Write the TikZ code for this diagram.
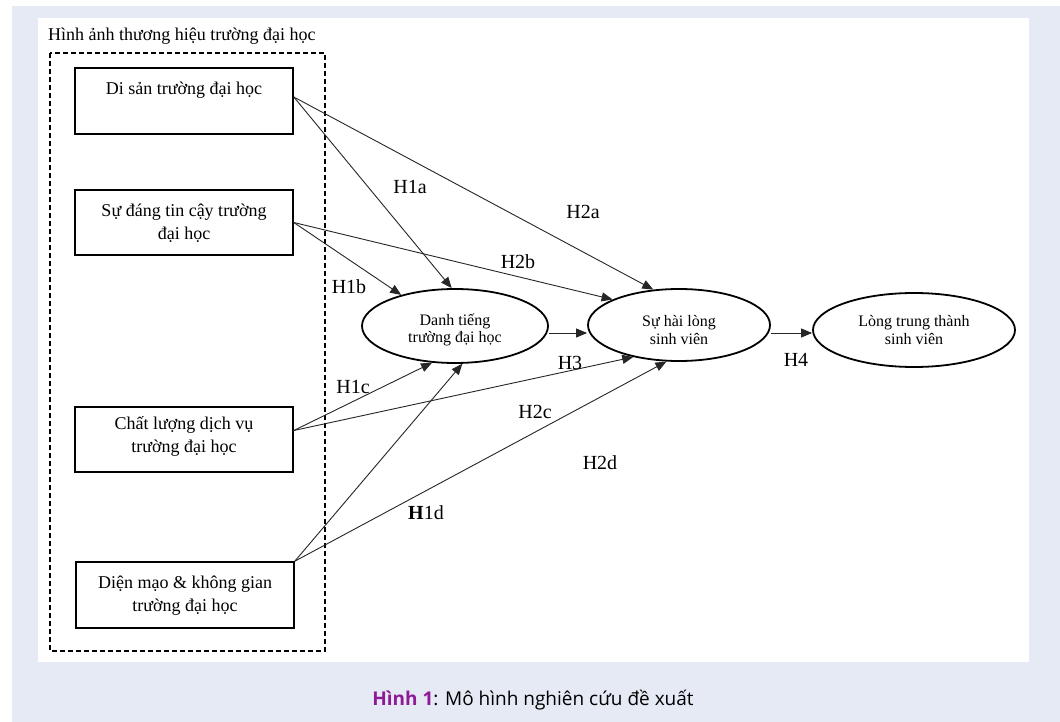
\documentclass[tikz,border=0pt]{standalone}
\usepackage{fontspec}
\setmainfont{Liberation Serif}
\newfontfamily\capfont{Open Sans}
\usetikzlibrary{arrows.meta,shapes.geometric}
\definecolor{bgblue}{RGB}{230,234,245}
\definecolor{capviolet}{RGB}{142,27,150}
\begin{document}
\begin{tikzpicture}[x=1bp,y=-1bp,
  boxstyle/.style={draw, line width=1.6bp, minimum width=218bp, minimum height=66bp, inner sep=0pt},
  btext/.style={font=\fontsize{18bp}{23bp}\selectfont, align=center, inner sep=0pt},
  ell/.style={draw, ellipse, line width=1.8bp, inner sep=0pt},
  etext/.style={font=\fontsize{16bp}{17.5bp}\selectfont, align=center, inner sep=0pt},
  arr/.style={line width=0.9bp, draw=black!85, -{Triangle[length=11bp,width=9bp]}},
  hlab/.style={font=\fontsize{20bp}{24bp}\selectfont, inner sep=0pt},
  grp/.style={draw, line width=1.5bp, dash pattern=on 5bp off 3bp}
]
\useasboundingbox (0,0) rectangle (1060,722);
\fill[white] (0,0) rectangle (1060,722);
\fill[bgblue] (12,6) rectangle (1060,722);
\fill[white] (38,18) rectangle (1029,662);

% group
\node[btext, anchor=west] (title) at (48,36) {Hình ảnh thương hiệu trường đại học};
\draw[grp] (50,53) rectangle (325,651);

% boxes
\node[boxstyle] (b1) at (184,101) {};
\node[btext] (t1) at (184,90) {Di sản trường đại học};
\node[boxstyle, minimum height=65bp] (b2) at (184,222.5) {};
\node[btext] (t2) at (184,223.5) {Sự đáng tin cậy trường\\đại học};
\node[boxstyle, minimum height=65bp] (b3) at (184,439.5) {};
\node[btext] (t3) at (184,436) {Chất lượng dịch vụ\\trường đại học};
\node[boxstyle] (b4) at (185,595) {};
\node[btext] (t4) at (185,596) {Diện mạo \& không gian\\trường đại học};

% ellipses
\node[ell, minimum width=186bp, minimum height=74bp] (e1) at (455,326) {};
\node[etext] (et1) at (455,330) {Danh tiếng\\trường đại học};
\node[ell, minimum width=182bp, minimum height=72bp] (e2) at (679,325) {};
\node[etext] (et2) at (679,330) {Sự hài lòng\\sinh viên};
\node[ell, minimum width=202bp, minimum height=74bp] (e3) at (914,330) {};
\node[etext] (et3) at (914,330) {Lòng trung thành\\sinh viên};

% connectors
\draw[arr] ([yshift=4bp]b1.east) -- (e1.95);
\draw[arr] ([yshift=4bp]b1.east) -- (e2.126);
\draw[arr] (b2.east) -- (e1.150);
\draw[arr] (b2.east) -- (e2.159);
\draw[arr] ([yshift=9bp]b3.east) -- (e1.238);
\draw[arr] ([yshift=9bp]b3.east) -- (e2.215);
\draw[arr] (b4.north east) -- (e1.281);
\draw[arr] (b4.north east) -- (e2.251);
\draw[arr] ([yshift=-7bp]e1.east) -- ([yshift=-7bp]e1.east -| e2.west);
\draw[arr] ([yshift=-8bp]e2.east) -- ([yshift=-8bp]e2.east -| e3.west);

% labels
\node[hlab] (h1a) at (410,187) {H1a};
\node[hlab] (h2a) at (583,212) {H2a};
\node[hlab] (h2b) at (518,262) {H2b};
\node[hlab] (h1b) at (349,287) {H1b};
\node[hlab] (h1c) at (353,387) {H1c};
\node[hlab] (h3) at (570,363) {H3};
\node[hlab] (h2c) at (535,412) {H2c};
\node[hlab] (h2d) at (600,463) {H2d};
\node[hlab] (h1d) at (426,513) {\textbf{H}1d};
\node[hlab] (h4) at (796,360) {H4};

% caption
\node[font=\capfont\fontsize{19bp}{23bp}\selectfont, inner sep=0pt] (cap) at (533,700) {\textbf{\color{capviolet}Hình 1}: Mô hình nghiên cứu đề xuất};
\end{tikzpicture}
\end{document}
